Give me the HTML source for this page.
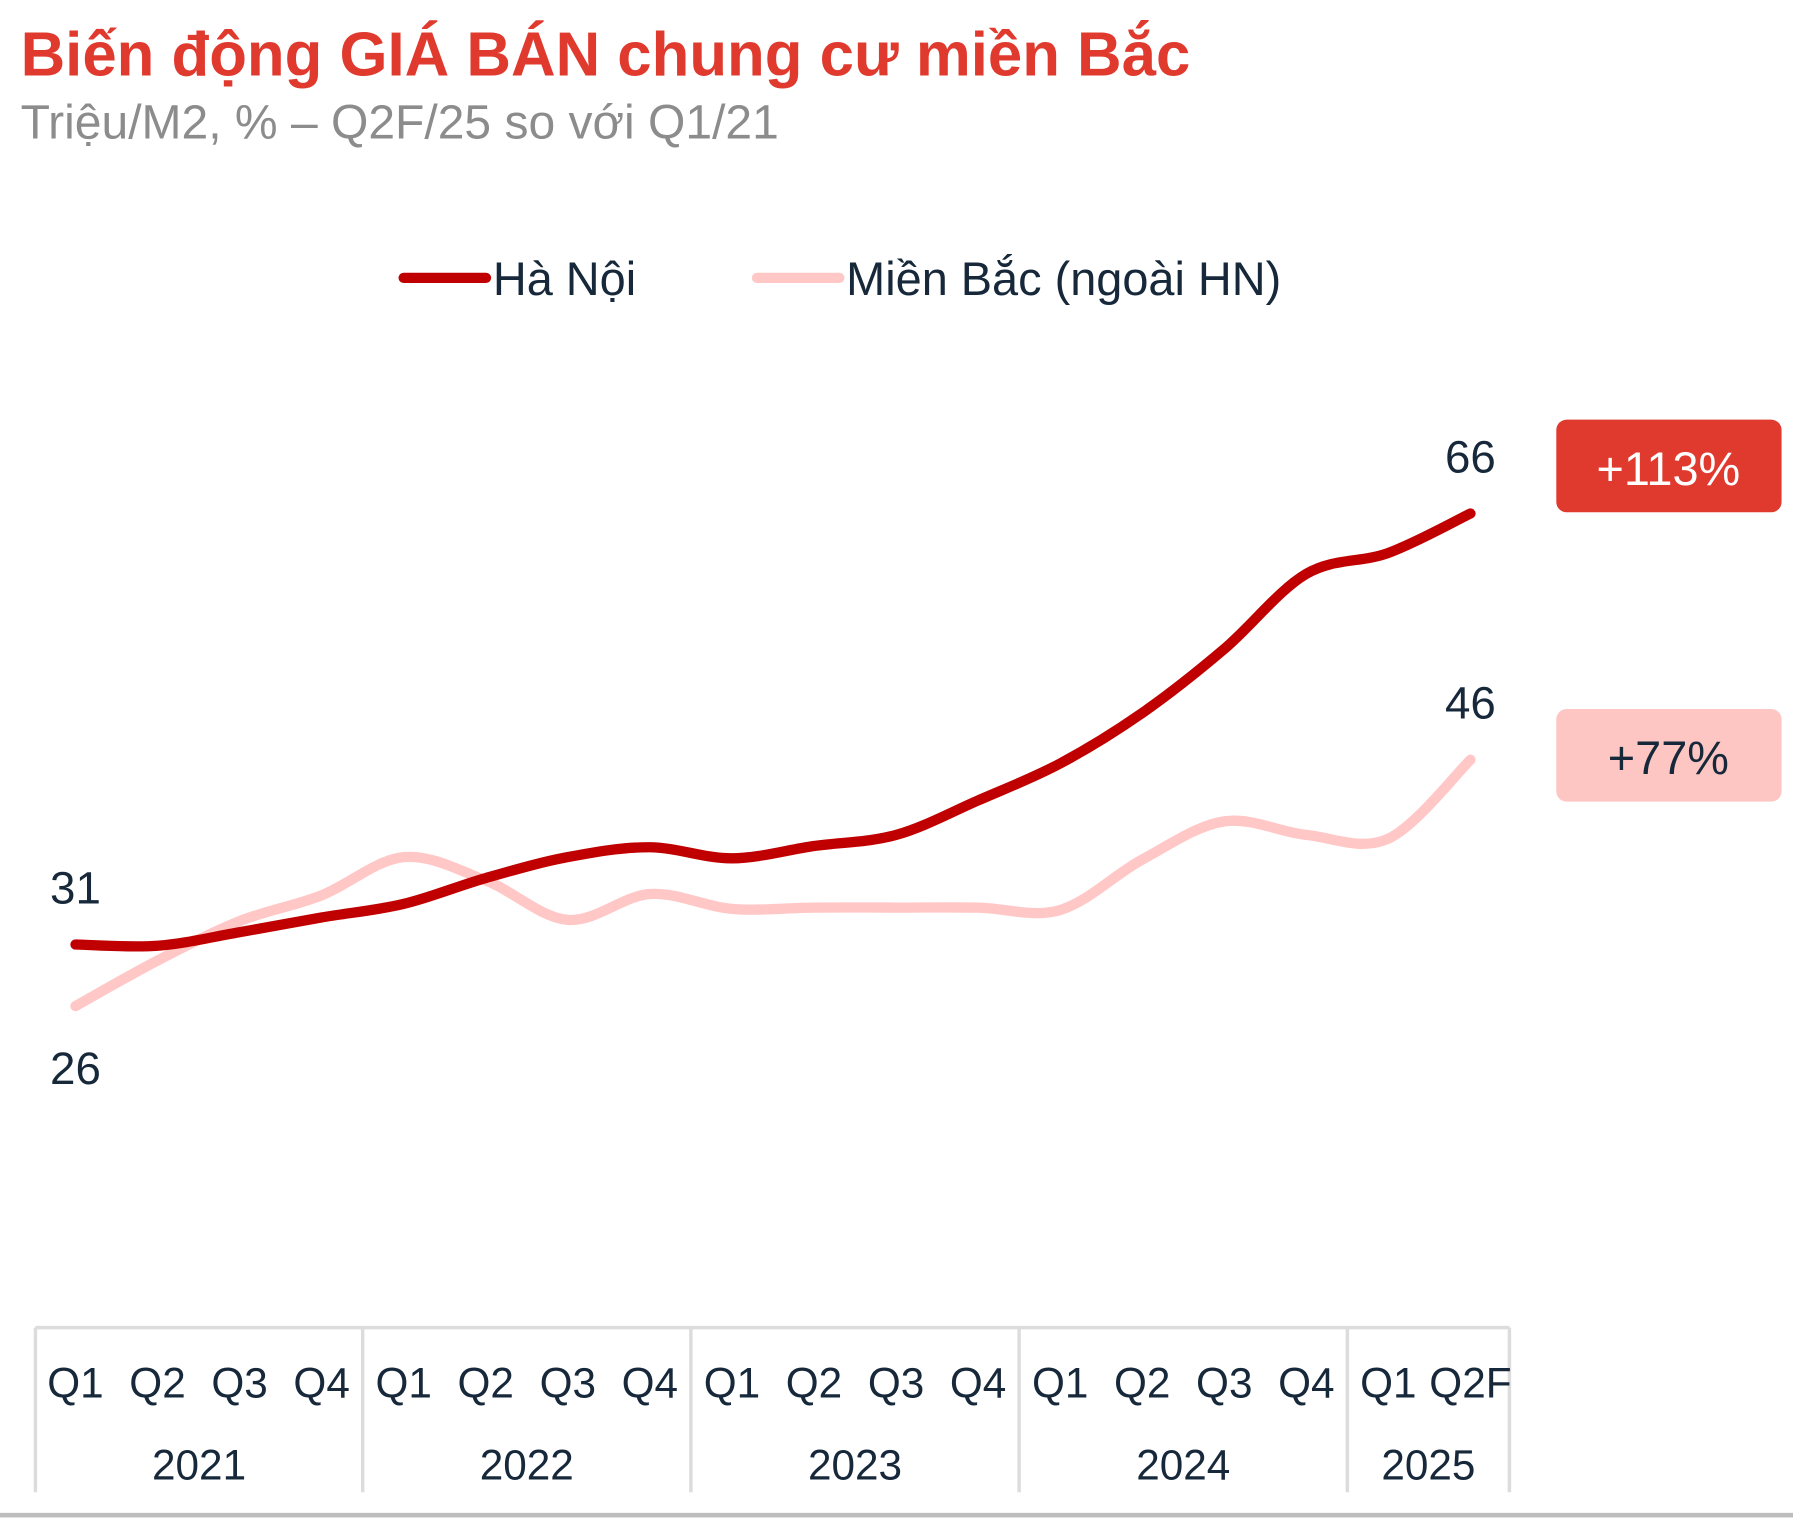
<!DOCTYPE html>
<html><head><meta charset="utf-8"><style>
html,body{margin:0;padding:0;background:#fff;}
svg{display:block;font-family:"Liberation Sans",sans-serif;}
</style></head><body>
<svg id="chart" width="1793" height="1518" viewBox="0 0 1568 1327.5" xmlns="http://www.w3.org/2000/svg">
<text x="18" y="66" font-size="54" font-weight="bold" fill="#e03a2f">Biến động GIÁ BÁN chung cư miền Bắc</text>
<text x="18" y="121" font-size="42" fill="#8c8c8c">Triệu/M2, % – Q2F/25 so với Q1/21</text>
<g>
<line x1="353" y1="243" x2="425" y2="243" stroke="#c00000" stroke-width="9" stroke-linecap="round"/>
<text x="431" y="258" font-size="41" fill="#16283a">Hà Nội</text>
<line x1="662" y1="243" x2="734" y2="243" stroke="#ffc7c5" stroke-width="9" stroke-linecap="round"/>
<text x="740" y="258" font-size="41" fill="#16283a">Miền Bắc (ngoài HN)</text>
</g>
<g id="axis"></g>
<g id="lines"></g>
<g>
<rect x="1361" y="367" width="197" height="81" rx="9" fill="#e03a2f"/>
<text x="1459" y="424" font-size="41" fill="#fff" text-anchor="middle">+113%</text>
<rect x="1361" y="620" width="197" height="81" rx="9" fill="#fdc6c3"/>
<text x="1459" y="677" font-size="41" fill="#16283a" text-anchor="middle">+77%</text>
</g>
<rect x="0" y="1323" width="1568" height="4" fill="#bdbdbd"/>
</svg>
<script>
const quarters=["Q1","Q2","Q3","Q4","Q1","Q2","Q3","Q4","Q1","Q2","Q3","Q4","Q1","Q2","Q3","Q4","Q1","Q2F"];
const years=["2021","2022","2023","2024","2025"];
const hanoi=[31,30.9,32.0,33.2,34.3,36.4,38.1,38.9,38.0,39.0,39.9,42.7,45.7,49.8,55.0,61.1,62.8,66];
const mienBac=[26,29.7,32.9,35.0,38.1,36.2,33.0,35.1,33.9,34.0,34.0,34.0,33.8,37.9,41.0,39.9,39.6,46];
const yearQuarterCounts=[4,4,4,4,2];

const NS="http://www.w3.org/2000/svg";
const X0=66, DX=71.76;
function xPos(i){return X0+i*DX;}
function yPos(v){return 826-(v-31)*10.77;}
function mk(tag,attrs,parent){const e=document.createElementNS(NS,tag);for(const k in attrs)e.setAttribute(k,attrs[k]);parent.appendChild(e);return e;}

const axis=document.getElementById('axis');
const axisTop=1161,axisBot=1305;
let l=mk('line',{x1:31,y1:axisTop,x2:1320,y2:axisTop,stroke:'#dcdcdc','stroke-width':3},axis);


let bounds=[31];let idx=0;
yearQuarterCounts.forEach(c=>{idx+=c;bounds.push(idx<quarters.length?(xPos(idx-1)+xPos(idx))/2:1320);});
bounds.forEach(bx=>{const s=mk('line',{x1:bx,y1:axisTop,x2:bx,y2:axisBot,stroke:'#dcdcdc','stroke-width':3},axis);

});
quarters.forEach((q,i)=>{const t=mk('text',{x:xPos(i),y:1222,'font-size':37,fill:'#16283a','text-anchor':'middle'},axis);t.textContent=q;

});
years.forEach((y,i)=>{const t=mk('text',{x:(bounds[i]+bounds[i+1])/2,y:1294,'font-size':37,fill:'#16283a','text-anchor':'middle'},axis);t.textContent=y;

});

function smoothPath(vals){
  const p=vals.map((v,i)=>[xPos(i),yPos(v)]);
  let d=`M${p[0][0]},${p[0][1]}`;
  for(let i=0;i<p.length-1;i++){
    const p0=p[i-1]||p[i],p1=p[i],p2=p[i+1],p3=p[i+2]||p[i+1];
    const c1=[p1[0]+(p2[0]-p0[0])/6,p1[1]+(p2[1]-p0[1])/6];
    const c2=[p2[0]-(p3[0]-p1[0])/6,p2[1]-(p3[1]-p1[1])/6];
    d+=` C${c1[0]},${c1[1]} ${c2[0]},${c2[1]} ${p2[0]},${p2[1]}`;
  }
  return d;
}
const lines=document.getElementById('lines');
const mb=mk('path',{d:smoothPath(mienBac),fill:'none',stroke:'#ffc7c5','stroke-width':9,'stroke-linecap':'round'},lines);


const hn=mk('path',{d:smoothPath(hanoi),fill:'none',stroke:'#c00000','stroke-width':9,'stroke-linecap':'round'},lines);



const n=hanoi.length-1;
const labels=[
 [xPos(0),yPos(hanoi[0])-36,hanoi[0],'label-hanoi-start'],
 [xPos(0),yPos(mienBac[0])+68,mienBac[0],'label-mienbac-start'],
 [xPos(n),yPos(hanoi[n])-36,hanoi[n],'label-hanoi-end'],
 [xPos(n),yPos(mienBac[n])-36,mienBac[n],'label-mienbac-end']];
labels.forEach(a=>{const t=mk('text',{x:a[0],y:a[1],'font-size':40,fill:'#16283a','text-anchor':'middle'},lines);t.textContent=Math.round(a[2]);

});
</script>
</body></html>
